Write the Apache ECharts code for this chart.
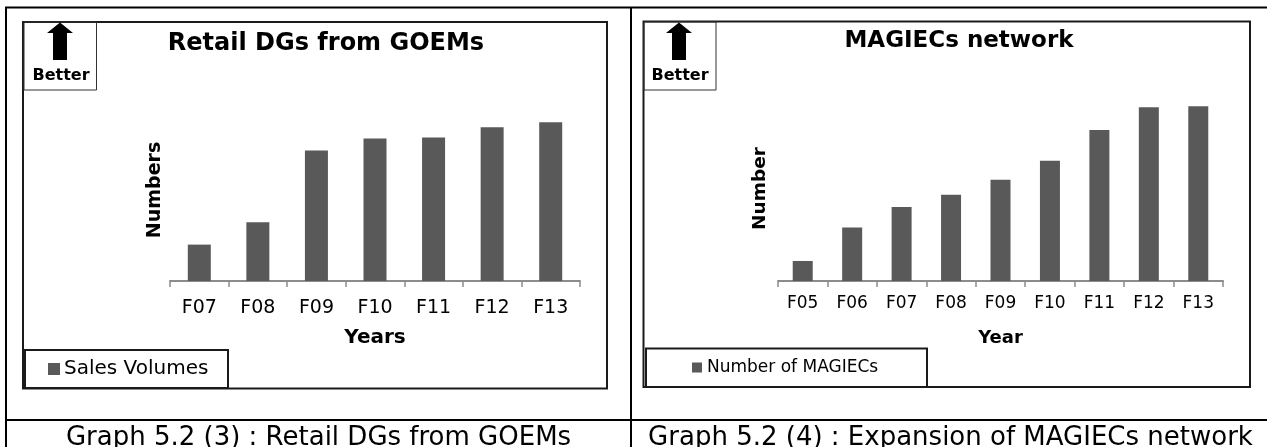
<!DOCTYPE html>
<html>
<head>
<meta charset="utf-8">
<script src="https://cdn.jsdelivr.net/npm/echarts@6/dist/echarts.min.js"></script>
<style>
html,body{margin:0;padding:0;background:#fff;}
#chart{width:1267px;height:447px;}
</style>
</head>
<body>
<div id="chart"></div>
<script>
// ---- data ----
const leftTitle = 'Retail DGs from GOEMs';
const leftCategories = ['F07', 'F08', 'F09', 'F10', 'F11', 'F12', 'F13'];
const leftValues = [36, 58, 129, 141, 142, 152, 157];
const leftSeriesName = 'Sales Volumes';
const leftXName = 'Years';
const leftYName = 'Numbers';
const leftCaption = 'Graph 5.2 (3) : Retail DGs from GOEMs';

const rightTitle = 'MAGIECs network';
const rightCategories = ['F05', 'F06', 'F07', 'F08', 'F09', 'F10', 'F11', 'F12', 'F13'];
const rightValues = [19.5, 52, 72, 84, 98.5, 117, 147, 169, 170];
const rightSeriesName = 'Number of MAGIECs';
const rightXName = 'Year';
const rightYName = 'Number';
const rightCaption = 'Graph 5.2 (4) : Expansion of MAGIECs network';

const betterLabel = 'Better';

const FONT = 'DejaVu Sans';
const BAR = '#595959';

const chart = echarts.init(document.getElementById('chart'), null, {renderer: 'canvas'});

function arrow(cx) {
  return {
    type: 'polygon',
    silent: true,
    shape: {points: [[cx, 22.5], [cx + 13, 33], [cx + 7, 33], [cx + 7, 60], [cx - 7, 60], [cx - 7, 33], [cx - 13, 33]]},
    style: {fill: '#000'}
  };
}
function rect(x, y, w, h, lw, color) {
  return {type: 'rect', silent: true, shape: {x: x, y: y, width: w, height: h}, style: {fill: null, stroke: color || '#1a1a1a', lineWidth: lw}};
}
function line(x1, y1, x2, y2, lw) {
  return {type: 'line', silent: true, shape: {x1: x1, y1: y1, x2: x2, y2: y2}, style: {stroke: '#000', lineWidth: lw}};
}
function txt(x, y, text, size, weight) {
  return {type: 'text', silent: true, x: x, y: y,
    style: {text: text, fontFamily: FONT, fontSize: size, fontWeight: weight || 'normal', fill: '#000', align: 'center', verticalAlign: 'middle'}};
}

const option = {
  animation: false,
  backgroundColor: '#fff',
  title: [
    {text: leftTitle, left: 326, top: 32, textAlign: 'center', padding: 0,
     textStyle: {fontFamily: FONT, fontSize: 24, fontWeight: 'bold', color: '#000'}},
    {text: rightTitle, left: 959, top: 30, textAlign: 'center', padding: 0,
     textStyle: {fontFamily: FONT, fontSize: 23, fontWeight: 'bold', color: '#000'}}
  ],
  legend: [
    {data: [leftSeriesName], left: 48, top: 359, padding: 0, icon: 'rect', itemWidth: 12, itemHeight: 12,
     selectedMode: false, textStyle: {fontFamily: FONT, fontSize: 20, color: '#000', padding: [0, 0, 0, -1]}},
    {data: [rightSeriesName], left: 692, top: 359, padding: 0, icon: 'rect', itemWidth: 10, itemHeight: 10,
     selectedMode: false, textStyle: {fontFamily: FONT, fontSize: 17, color: '#000'}}
  ],
  grid: [
    {left: 170, right: 687, top: 99, bottom: 166, containLabel: false},
    {left: 778, right: 44, top: 96, bottom: 166, containLabel: false}
  ],
  xAxis: [
    {type: 'category', gridIndex: 0, data: leftCategories,
     axisLine: {lineStyle: {color: '#8c8c8c', width: 2}},
     axisTick: {show: true, length: 6, lineStyle: {color: '#8c8c8c', width: 1.5}},
     axisLabel: {fontFamily: FONT, fontSize: 19, color: '#000', margin: 18},
     name: leftXName, nameLocation: 'middle', nameGap: 47,
     nameTextStyle: {fontFamily: FONT, fontSize: 20, fontWeight: 'bold', color: '#000'}},
    {type: 'category', gridIndex: 1, data: rightCategories,
     axisLine: {lineStyle: {color: '#8c8c8c', width: 2}},
     axisTick: {show: true, length: 6, lineStyle: {color: '#8c8c8c', width: 1.5}},
     axisLabel: {fontFamily: FONT, fontSize: 17, color: '#000', margin: 14},
     name: rightXName, nameLocation: 'middle', nameGap: 48,
     nameTextStyle: {fontFamily: FONT, fontSize: 18, fontWeight: 'bold', color: '#000'}}
  ],
  yAxis: [
    {type: 'value', gridIndex: 0, min: 0, max: 180,
     axisLine: {show: false}, axisTick: {show: false}, axisLabel: {show: false}, splitLine: {show: false},
     name: leftYName, nameLocation: 'middle', nameGap: 5,
     nameTextStyle: {fontFamily: FONT, fontSize: 19, fontWeight: 'bold', color: '#000'}},
    {type: 'value', gridIndex: 1, min: 0, max: 180,
     axisLine: {show: false}, axisTick: {show: false}, axisLabel: {show: false}, splitLine: {show: false},
     name: rightYName, nameLocation: 'middle', nameGap: 8,
     nameTextStyle: {fontFamily: FONT, fontSize: 18.5, fontWeight: 'bold', color: '#000'}}
  ],
  series: [
    {name: leftSeriesName, type: 'bar', xAxisIndex: 0, yAxisIndex: 0, data: leftValues,
     barWidth: 23, itemStyle: {color: BAR}},
    {name: rightSeriesName, type: 'bar', xAxisIndex: 1, yAxisIndex: 1, data: rightValues,
     barWidth: 20, itemStyle: {color: BAR}}
  ],
  graphic: [
    line(5, 7.5, 1267, 7.5, 2),
    line(6, 7, 6, 447, 2),
    line(631, 7, 631, 447, 2),
    line(5, 420, 1267, 420, 2),
    rect(23, 22, 584, 366.5, 2),
    rect(643.5, 21.5, 606.5, 365.5, 2),
    rect(24, 22, 72.5, 68, 1, '#333'),
    rect(644, 22, 72, 68, 1, '#333'),
    arrow(60),
    arrow(679),
    txt(61, 76, betterLabel, 16, 'bold'),
    txt(680, 76, betterLabel, 16, 'bold'),
    rect(25, 350, 203, 38, 2),
    rect(646, 348.5, 281, 38.5, 2),
    txt(318.5, 438, leftCaption, 26),
    txt(950.5, 438, rightCaption, 26)
  ]
};
chart.setOption(option);
</script>
</body>
</html>
